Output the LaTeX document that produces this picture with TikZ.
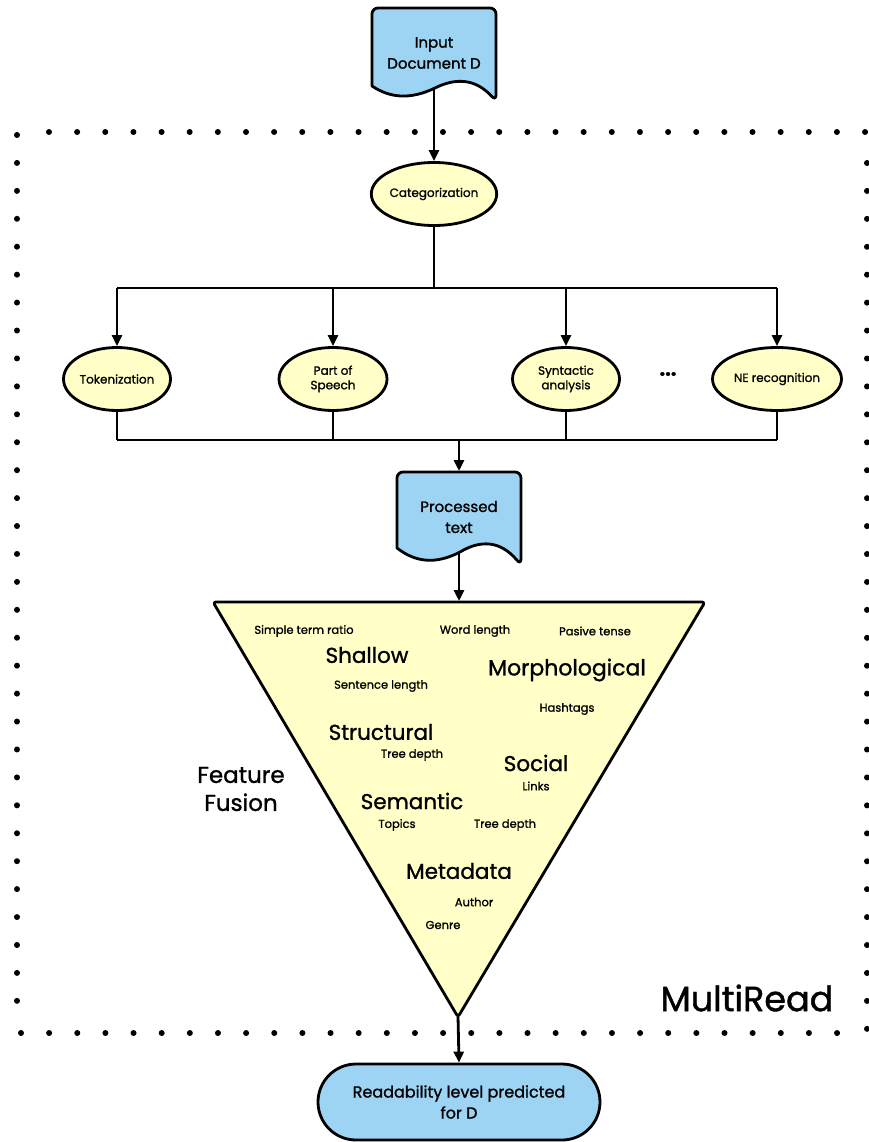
\documentclass[tikz,border=0pt]{standalone}
\usepackage{fontspec}
\setmainfont{Poppins}[FakeBold=1.2]
\usetikzlibrary{arrows.meta,shapes.geometric}
\definecolor{docblue}{RGB}{157,211,243}
\definecolor{procyel}{RGB}{255,255,199}
\begin{document}
\begin{tikzpicture}[x=1pt,y=-1pt,
  line width=2.8pt, line join=round,
  arr/.style={-{Triangle[length=11pt,width=10pt]}},
  proc/.style={ellipse, draw, fill=procyel, line width=2.8pt, minimum width=#1, minimum height=63pt, inner sep=0pt, align=center, font=\fontsize{12}{14.5}\selectfont},
  doctext/.style={align=center, font=\fontsize{15}{21}\selectfont},
  small/.style={font=\fontsize{11.5}{13}\selectfont, inner sep=0pt},
  big/.style={font=\fontsize{21.5}{24}\selectfont, inner sep=0pt},
]
\fill[white] (0,0) rectangle (868,1142);
\useasboundingbox (0,0) rectangle (868,1142);

% dotted frame
\foreach \k in {0,...,29} {\fill (49+28.14*\k,132) circle (3pt);}
\foreach \k in {0,...,31} {\fill (17,135+27.93*\k) circle (3pt);}
\foreach \k in {0,...,29} {\fill (21+28.14*\k,1033) circle (3pt);}
\foreach \k in {0,...,31} {\fill (867,163+27.93*\k) circle (3pt);}

% input document
\draw[fill=docblue] (372,86) [rounded corners=6pt] -- (372,8) -- (496,8) -- (496,101) [sharp corners]
  .. controls (475,78) and (455,78) .. (435,88) .. controls (410,100) and (390,98) .. (372,86) -- cycle;
\node[doctext] (input) at (434,53) {Input\\Document D};
\coordinate (inbot) at (434,88);

% categorization
\node[proc=122pt] (cat) at (434,194) {Categorization};
\draw[arr] (inbot) -- (cat.north);

% NLP steps
\node[proc=107pt] (tok) at (117,379) {Tokenization};
\node[proc=108pt] (pos) at (333,379) {Part of\\Speech};
\node[proc=107pt] (syn) at (566,379) {Syntactic\\analysis};
\node[proc=129pt] (ner) at (777,379) {NE recognition};
\node[font=\fontsize{20}{20}\selectfont\bfseries] (dots) at (668,374) {...};

\coordinate (bus1) at (0,288);
\coordinate (bus2) at (0,440);
\draw (cat.south) -- (cat.south |- bus1);
\draw (tok.north |- bus1) -- (ner.north |- bus1);
\foreach \n in {tok,pos,syn,ner} {
  \draw[arr] (\n.north |- bus1) -- (\n.north);
  \draw (\n.south) -- (\n.south |- bus2);
}
\draw (tok.south |- bus2) -- (ner.south |- bus2);

% processed text document
\draw[fill=docblue] (397,548) [rounded corners=6pt] -- (397,472) -- (521,472) -- (521,565) [sharp corners]
  .. controls (500,540) and (480,540) .. (460,552) .. controls (435,565) and (415,562) .. (397,548) -- cycle;
\node[doctext] (proct) at (459,517) {Processed\\text};
\coordinate (ptop) at (459,471);
\coordinate (pbot) at (459,552);
\draw[arr] (459,440) -- (ptop);

% feature fusion triangle
\draw[fill=procyel, rounded corners=3pt] (213,602) -- (705,602) -- (458,1017) -- cycle;
\coordinate (ttop) at (459,601);
\coordinate (tbot) at (458,1016);
\draw[arr] (pbot) -- (ttop);

\node[small] (f1) at (304,631) {Simple term ratio};
\node[small] (f2) at (475,631) {Word length};
\node[small] (f3) at (595,631) {Pasive tense};
\node[big] (g1) at (367,655) {Shallow};
\node[big, font=\fontsize{22}{24}\selectfont] (g2) at (567,670) {Morphological};
\node[small] (f4) at (381,686) {Sentence length};
\node[small] (f5) at (567,709) {Hashtags};
\node[big] (g3) at (381,732) {Structural};
\node[small] (f6) at (412,755) {Tree depth};
\node[big] (g4) at (536,763) {Social};
\node[small] (f7) at (536,786) {Links};
\node[big] (g5) at (412,801) {Semantic};
\node[small] (f8) at (397,825) {Topics};
\node[small] (f9) at (505,825) {Tree depth};
\node[big] (g6) at (459,871) {Metadata};
\node[small] (f10) at (474,902) {Author};
\node[small] (f11) at (443,925) {Genre};

\node[align=center, font=\fontsize{23}{28}\selectfont] (fusion) at (241,789) {Feature\\Fusion};
\node[font=\fontsize{35}{35}\selectfont] (multi) at (747,998) {MultiRead};

% output
\node[draw, fill=docblue, rounded corners=38pt, minimum width=282pt, minimum height=76pt, align=center, font=\fontsize{16}{21}\selectfont] (out) at (459,1102) {Readability level predicted\\for D};
\draw[arr] (tbot) -- (out.north);
\end{tikzpicture}
\end{document}
